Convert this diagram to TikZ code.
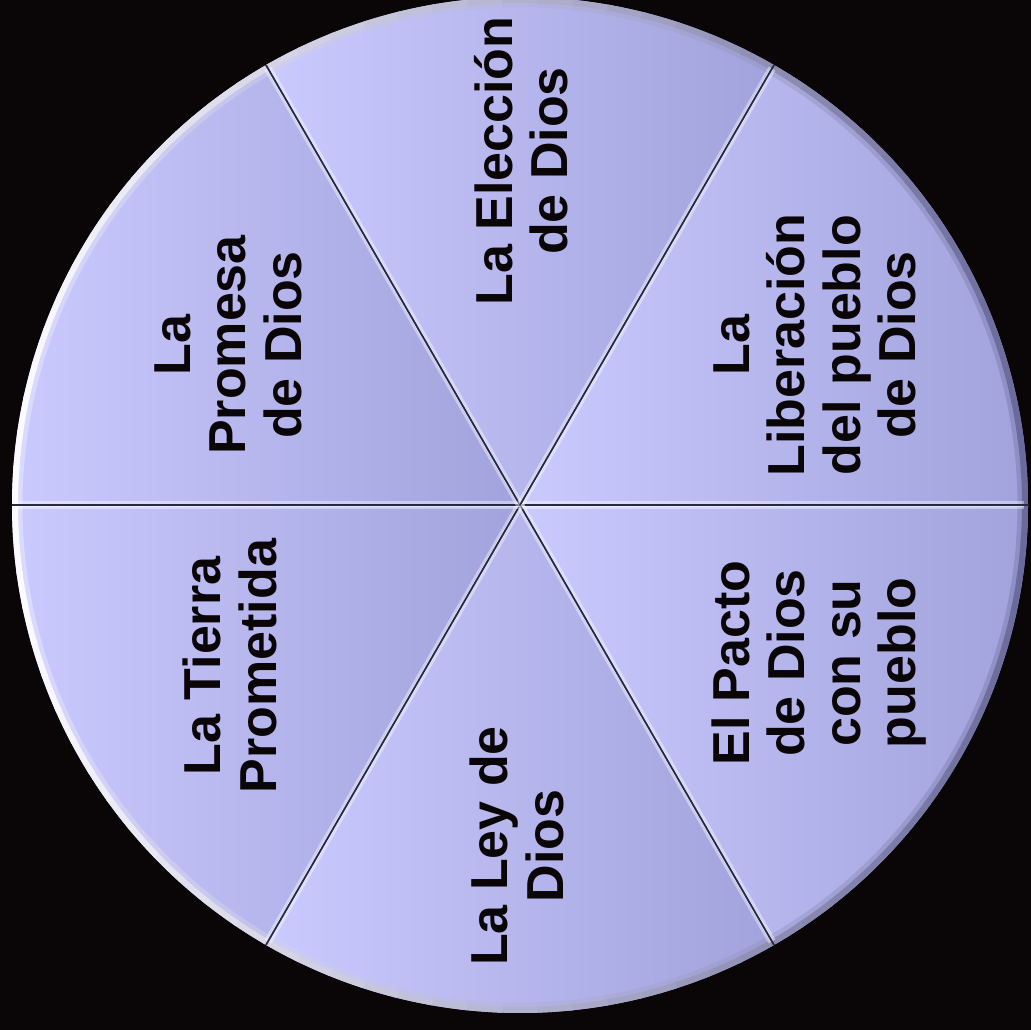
\documentclass[tikz,border=0pt]{standalone}
\usepackage{fontspec}
\setmainfont{Liberation Sans}
\definecolor{bgblack}{RGB}{10,5,6}
\definecolor{secL}{RGB}{202,202,255}
\definecolor{secR}{RGB}{162,162,220}
\definecolor{lineDark}{RGB}{40,40,70}
\definecolor{rimDark}{RGB}{105,105,155}
\definecolor{rimLight}{RGB}{250,250,255}
\definecolor{txt}{RGB}{10,5,6}
\tikzset{
  lbl/.style={rotate=90, align=center, text=txt, inner sep=0pt,
    font=\fontsize{52}{55.5}\selectfont\bfseries},
  sector/.style={left color=secL, right color=secR},
}
\begin{document}
\begin{tikzpicture}[x=1pt,y=-1pt]
\fill[bgblack] (0,0) rectangle (1031,1030);
\useasboundingbox (0,0) rectangle (1031,1030);
\coordinate (O) at (520,505);
\def\R{508}
% sectors
\foreach \a in {0,60,...,300}{
  \shade[sector] (O) -- ++(\a:\R) arc[start angle=\a, end angle=\a+60, radius=\R] -- cycle;
}
% rim bevel
\foreach \a in {0,4,...,356}{
  \pgfmathtruncatemacro\p{50+50*cos(\a+2)}
  \draw[line width=6pt, draw=rimDark!\p!rimLight] (O) ++(\a:{\R-3}) arc[start angle=\a, end angle=\a+4.5, radius=\R-3];
}
\foreach \a in {0,4,...,356}{
  \pgfmathtruncatemacro\p{50+50*cos(\a+2)}
  \draw[line width=5pt, draw=rimDark!\p!rimLight, opacity=0.35] (O) ++(\a:{\R-8}) arc[start angle=\a, end angle=\a+4, radius=\R-8];
}
% radial separators
\foreach \a in {0,60,...,300}{
  \draw[line width=8pt, draw=white, opacity=0.4] (O) -- ++(\a:{\R-4});
  \draw[line width=3pt, draw=white, opacity=0.5] (O) -- ++(\a:{\R-4});
  \draw[line width=1.8pt, draw=lineDark] (O) -- ++(\a:\R);
}
% labels
\node[lbl] (eleccion) at (521,161) {La Elección\\de Dios};
\node[lbl] (promesa) at (228,345) {La\\Promesa\\de Dios};
\node[lbl] (liberacion) at (815,345) {La\\Liberación\\del pueblo\\de Dios};
\node[lbl] (tierra) at (230,666) {La Tierra\\Prometida};
\node[lbl] (ley) at (517,846) {La Ley de\\Dios};
\node[lbl] (pacto) at (819,663) {El Pacto\\de Dios\\con su\\pueblo};
\end{tikzpicture}
\end{document}
